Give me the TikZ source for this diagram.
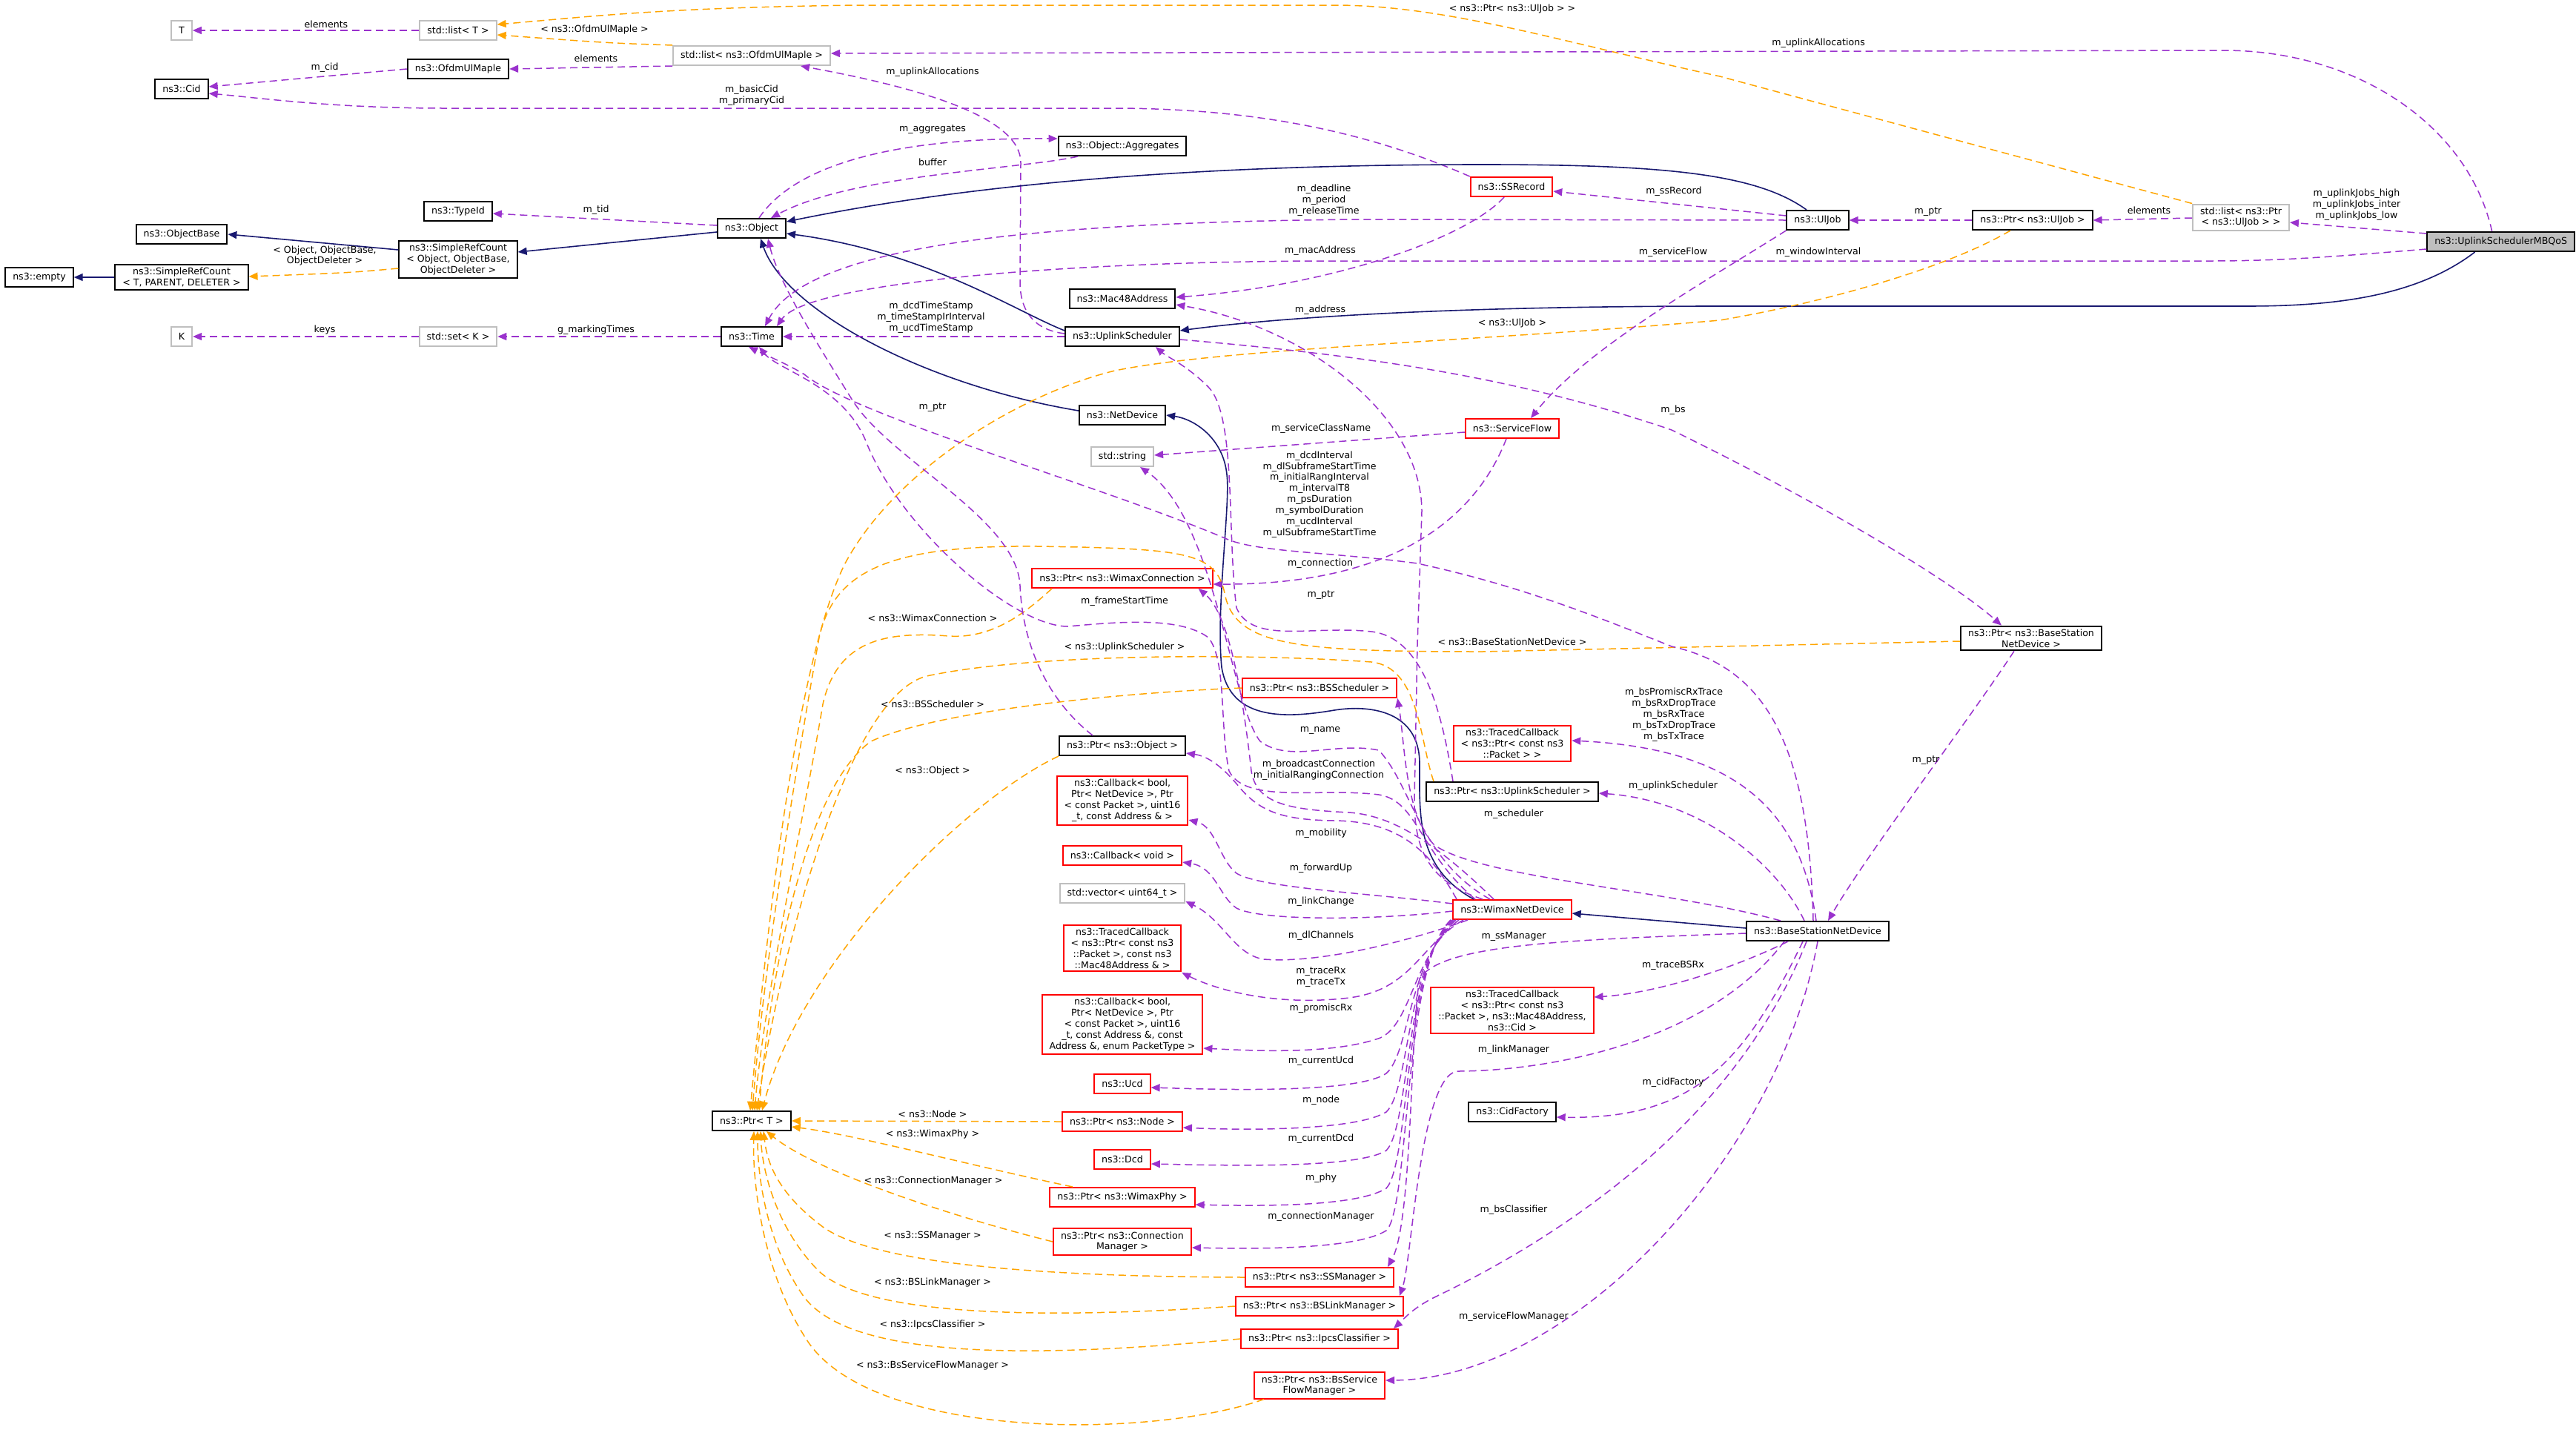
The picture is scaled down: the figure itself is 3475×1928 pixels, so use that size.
\documentclass[tikz,border=0pt]{standalone}
\usepackage{fontspec}
\setmainfont{DejaVu Sans}
\usetikzlibrary{arrows.meta}
\definecolor{usepurple}{HTML}{9A32CD}
\definecolor{tmplorange}{HTML}{FFA500}
\definecolor{basenavy}{HTML}{191970}
\begin{document}
\begin{tikzpicture}[x=1pt, y=-1pt,
  >={Triangle[length=12pt,width=10pt]},
  every node/.style={font=\fontsize{12.6}{14.9}\selectfont},
  classbox/.style={draw, line width=2pt, fill=white, align=center, inner xsep=10pt, inner ysep=4pt, minimum height=26pt},
  cls/.style={classbox, draw=black},
  undoc/.style={classbox, draw=red},
  ext/.style={classbox, draw=gray!50},
  mainbox/.style={classbox, draw=black, fill=gray!50},
  mem/.style={->, draw=usepurple, line width=1.5pt, dash pattern=on 10pt off 6pt},
  tpl/.style={->, draw=tmplorange, line width=1.5pt, dash pattern=on 10pt off 6pt},
  inh/.style={->, draw=basenavy, line width=1.6pt},
  lbl/.style={align=center, inner sep=0pt, text=black}]
\useasboundingbox (0,0) rectangle (3475,1928);

\node (t) at (245,41) [ext] {T};
\node (listt) at (618,41) [ext] {std::list< T >};
\node (lom) at (1014,75) [ext] {std::list< ns3::OfdmUlMaple >};
\node (maple) at (618,93) [cls] {ns3::OfdmUlMaple};
\node (cid) at (245,120) [cls] {ns3::Cid};
\node (typeid) at (618,285) [cls] {ns3::TypeId};
\node (obj) at (1014,308) [cls] {ns3::Object};
\node (objbase) at (245,316) [cls] {ns3::ObjectBase};
\node (src) at (618,350) [cls] {ns3::SimpleRefCount\\< Object, ObjectBase,\\ObjectDeleter >};
\node (empty) at (53,374) [cls] {ns3::empty};
\node (srct) at (245,374) [cls] {ns3::SimpleRefCount\\< T, PARENT, DELETER >};
\node (k) at (245,454) [ext] {K};
\node (setk) at (618,454) [ext] {std::set< K >};
\node (time) at (1014,454) [cls] {ns3::Time};
\node (aggr) at (1514,197) [cls] {ns3::Object::Aggregates};
\node (ssrec) at (2039,252) [undoc] {ns3::SSRecord};
\node (mac) at (1514,403) [cls] {ns3::Mac48Address};
\node (upsch) at (1514,454) [cls] {ns3::UplinkScheduler};
\node (uljob) at (2452,297) [cls] {ns3::UlJob};
\node (pujob) at (2742,297) [cls] {ns3::Ptr< ns3::UlJob >};
\node (lpujob) at (3023,293) [ext] {std::list< ns3::Ptr\\< ns3::UlJob > >};
\node (mbqos) at (3474,326) [mainbox, anchor=east] {ns3::UplinkSchedulerMBQoS};
\node (netdev) at (1514,560) [cls] {ns3::NetDevice};
\node (sflow) at (2040,578) [undoc] {ns3::ServiceFlow};
\node (str) at (1514,616) [ext] {std::string};
\node (pwc) at (1514,780) [undoc] {ns3::Ptr< ns3::WimaxConnection >};
\node (pbsnd) at (2740,861) [cls] {ns3::Ptr< ns3::BaseStation\\NetDevice >};
\node (pbssch) at (1780,928) [undoc] {ns3::Ptr< ns3::BSScheduler >};
\node (tcpkt) at (2040,1003) [undoc] {ns3::TracedCallback\\< ns3::Ptr< const ns3\\::Packet > >};
\node (pobj) at (1514,1006) [cls] {ns3::Ptr< ns3::Object >};
\node (cbfwd) at (1514,1080) [undoc] {ns3::Callback< bool,\\Ptr< NetDevice >, Ptr\\< const Packet >, uint16\\\_t, const Address \& >};
\node (pupsch) at (2040,1068) [cls] {ns3::Ptr< ns3::UplinkScheduler >};
\node (cbvoid) at (1514,1154) [undoc] {ns3::Callback< void >};
\node (vec) at (1514,1205) [ext] {std::vector< uint64\_t >};
\node (wnd) at (2040,1227) [undoc] {ns3::WimaxNetDevice};
\node (bsnd) at (2452,1256) [cls] {ns3::BaseStationNetDevice};
\node (tcmac) at (1514,1279) [undoc] {ns3::TracedCallback\\< ns3::Ptr< const ns3\\::Packet >, const ns3\\::Mac48Address \& >};
\node (tccid) at (2040,1363) [undoc] {ns3::TracedCallback\\< ns3::Ptr< const ns3\\::Packet >, ns3::Mac48Address,\\ns3::Cid >};
\node (cbprom) at (1514,1382) [undoc] {ns3::Callback< bool,\\Ptr< NetDevice >, Ptr\\< const Packet >, uint16\\\_t, const Address \&, const\\Address \&, enum PacketType >};
\node (ucd) at (1514,1462) [undoc] {ns3::Ucd};
\node (cidf) at (2040,1500) [cls] {ns3::CidFactory};
\node (pnode) at (1514,1513) [undoc] {ns3::Ptr< ns3::Node >};
\node (ptt) at (1014,1512) [cls] {ns3::Ptr< T >};
\node (dcd) at (1514,1564) [undoc] {ns3::Dcd};
\node (pphy) at (1514,1615) [undoc] {ns3::Ptr< ns3::WimaxPhy >};
\node (pconn) at (1514,1675) [undoc] {ns3::Ptr< ns3::Connection\\Manager >};
\node (pssm) at (1780,1723) [undoc] {ns3::Ptr< ns3::SSManager >};
\node (pbslm) at (1780,1762) [undoc] {ns3::Ptr< ns3::BSLinkManager >};
\node (pipcs) at (1780,1806) [undoc] {ns3::Ptr< ns3::IpcsClassifier >};
\node (pbssfm) at (1780,1869) [undoc] {ns3::Ptr< ns3::BsService\\FlowManager >};

\draw[mem] (listt.west) -- (t.east) node[lbl] at (440,33) {elements};
\draw[tpl] (lom.north west) .. controls (820,58) .. ([yshift=-6pt]listt.east) node[lbl] at (802,40) {< ns3::OfdmUlMaple >};
\draw[tpl] (lpujob.north west) -- (2320,103) .. controls (2100,55) and (1950,7) .. (1800,7) -- (1160,7) .. controls (900,10) and (800,22) .. ([yshift=8pt]listt.east) node[lbl] at (2040,12) {< ns3::Ptr< ns3::UlJob > >};
\draw[mem] (lom.south west) -- (maple.east) node[lbl] at (804,79) {elements};
\draw[mem] (maple.west) -- ([yshift=3pt]cid.east) node[lbl] at (438,91) {m\_cid};
\draw[mem] (ssrec.north west) .. controls (1850,180) and (1700,146) .. (1500,146) -- (600,146) .. controls (450,146) and (350,132) .. ([yshift=-6pt]cid.east) node[lbl] at (1014,129) {m\_basicCid\\m\_primaryCid};
\draw[mem] ([xshift=-12pt]mbqos.north) .. controls (3330,170) and (3180,68) .. (3000,68) -- ([yshift=3pt]lom.east) node[lbl] at (2453,58) {m\_uplinkAllocations};
\draw[mem] ([yshift=4pt]upsch.west) .. controls (1395,445) and (1376,420) .. (1376,380) -- (1377,220) .. controls (1378,160) and (1250,120) .. ([xshift=66pt]lom.south) node[lbl] at (1258,97) {m\_uplinkAllocations};
\draw[mem] ([xshift=10pt]obj.north) .. controls (1060,240) and (1160,185) .. ([yshift=10pt]aggr.west) node[lbl] at (1258,175) {m\_aggregates};
\draw[mem] ([xshift=-60pt]aggr.south) .. controls (1380,228) and (1150,235) .. ([xshift=26pt]obj.north) node[lbl] at (1258,219) {buffer};
\draw[mem] ([yshift=4pt]obj.west) -- ([yshift=-3pt]typeid.east) node[lbl] at (804,283) {m\_tid};
\draw[inh] ([yshift=-5pt]obj.west) -- ([yshift=10pt]src.east);
\draw[inh] ([yshift=13pt]src.west) -- (objbase.east);
\draw[tpl] ([yshift=-12pt]src.west) .. controls (470,368) .. ([yshift=1pt]srct.east) node[lbl] at (438,345) {< Object, ObjectBase,\\ObjectDeleter >};
\draw[inh] (srct.west) -- (empty.east);
\draw[mem] (setk.west) -- (k.east) node[lbl] at (438,445) {keys};
\draw[mem] (time.west) -- (setk.east) node[lbl] at (804,445) {g\_markingTimes};
\draw[inh] ([xshift=-15pt]uljob.north) .. controls (2370,235) and (2250,222) .. (2000,222) .. controls (1600,222) and (1300,250) .. ([yshift=9pt]obj.east);
\draw[inh] ([yshift=8pt]upsch.west) .. controls (1370,420) and (1250,340) .. ([yshift=-7pt]obj.east);
\draw[inh] ([yshift=6pt]netdev.west) .. controls (1250,520) and (1060,420) .. ([xshift=12pt]obj.south);
\draw[inh] ([xshift=-35pt]mbqos.south) .. controls (3260,400) and (3150,413) .. (3030,413) -- (2320,413) .. controls (2000,413) and (1750,425) .. ([yshift=8pt]upsch.east);
\draw[inh] ([xshift=-52pt]wnd.north) .. controls (1910,1170) and (1915,1100) .. (1915,1030) .. controls (1915,960) and (1850,950) .. (1800,958) .. controls (1740,968) and (1660,975) .. (1648,900) .. controls (1640,820) and (1660,680) .. (1655,640) .. controls (1650,590) and (1610,565) .. (netdev.east);
\draw[inh] ([yshift=4pt]bsnd.west) -- ([yshift=-5pt]wnd.east);
\draw[mem] (uljob.west) -- (1830,296) .. controls (1400,300) and (1090,330) .. ([xshift=18pt]time.north) node[lbl] at (1786,270) {m\_deadline\\m\_period\\m\_releaseTime};
\draw[mem] ([yshift=-10pt]mbqos.west) .. controls (3150,346) and (3080,352) .. (2980,352) -- (1800,352) .. controls (1450,352) and (1090,380) .. ([xshift=34pt]time.north) node[lbl] at (2453,340) {m\_windowInterval};
\draw[mem] (upsch.west) -- (time.east) node[lbl] at (1256,428) {m\_dcdTimeStamp\\m\_timeStampIrInterval\\m\_ucdTimeStamp};
\draw[mem] ([xshift=-10pt]ssrec.south) .. controls (1980,320) and (1800,385) .. ([yshift=2pt]mac.east) node[lbl] at (1781,338) {m\_macAddress};
\draw[mem] ([xshift=-40pt]wnd.north) .. controls (1930,1190) and (1908,1150) .. (1908,1080) -- (1912,870) -- (1918,690) .. controls (1918,560) and (1760,440) .. ([yshift=-8pt]mac.east) node[lbl] at (1781,418) {m\_address};
\draw[mem] ([yshift=-5pt]sflow.west) -- ([yshift=2pt]str.east) node[lbl] at (1782,578) {m\_serviceClassName};
\draw[mem] ([xshift=-30pt]wnd.north) .. controls (1915,1160) and (1905,1060) .. (1860,1012) .. controls (1800,1000) and (1740,1030) .. (1700,1000) .. controls (1660,950) and (1640,700) .. ([xshift=24pt]str.south) node[lbl] at (1781,985) {m\_name};
\draw[mem] ([xshift=-8pt]sflow.south) .. controls (1990,700) and (1880,789) .. ([yshift=-8pt]pwc.east) node[lbl] at (1781,760) {m\_connection};
\draw[mem] ([xshift=-25pt]wnd.north) .. controls (1940,1140) and (1880,1100) .. (1820,1096) .. controls (1740,1092) and (1695,1085) .. (1688,1040) .. controls (1678,950) and (1660,830) .. ([xshift=-20pt]pwc.south east) node[lbl] at (1779,1039) {m\_broadcastConnection\\m\_initialRangingConnection};
\draw[tpl] ([xshift=-95pt]pwc.south) .. controls (1385,825) and (1340,862) .. (1280,858) .. controls (1200,852) and (1130,860) .. (1110,950) .. controls (1085,1100) and (1030,1350) .. ([xshift=4pt]ptt.north) node[lbl] at (1258,834) {< ns3::WimaxConnection >};
\draw[tpl] ([xshift=-30pt]pujob.south) .. controls (2620,365) and (2450,410) .. (2320,432) .. controls (2000,460) and (1650,470) .. (1504,500) .. controls (1380,530) and (1210,630) .. (1140,760) .. controls (1070,900) and (1030,1300) .. ([xshift=-2pt]ptt.north) node[lbl] at (2040,436) {< ns3::UlJob >};
\draw[tpl] ([yshift=-4pt]pbsnd.west) -- (2000,879) .. controls (1750,879) and (1665,872) .. (1652,800) .. controls (1640,745) and (1600,740) .. (1400,737) .. controls (1200,735) and (1125,770) .. (1105,860) .. controls (1080,1000) and (1030,1300) .. ([xshift=1pt]ptt.north) node[lbl] at (2040,866) {< ns3::BaseStationNetDevice >};
\draw[tpl] ([xshift=-106pt]pupsch.north) .. controls (1915,1000) and (1915,900) .. (1850,893) .. controls (1700,882) and (1400,880) .. (1250,912) .. controls (1140,940) and (1050,1300) .. ([xshift=7pt]ptt.north) node[lbl] at (1517,873) {< ns3::UplinkScheduler >};
\draw[tpl] (pbssch.west) .. controls (1500,935) and (1260,960) .. (1175,1000) .. controls (1090,1060) and (1040,1300) .. ([xshift=10pt]ptt.north) node[lbl] at (1258,950) {< ns3::BSScheduler >};
\draw[tpl] (pobj.south west) .. controls (1300,1080) and (1080,1300) .. ([xshift=14pt]ptt.north) node[lbl] at (1258,1040) {< ns3::Object >};
\draw[tpl] (pnode.west) -- (ptt.east) node[lbl] at (1258,1503) {< ns3::Node >};
\draw[tpl] ([xshift=-67pt]pphy.north) .. controls (1300,1570) and (1150,1530) .. ([yshift=-8pt]ptt.east) node[lbl] at (1258,1530) {< ns3::WimaxPhy >};
\draw[tpl] (pconn.west) .. controls (1280,1640) and (1100,1580) .. ([xshift=20pt]ptt.south) node[lbl] at (1259,1593) {< ns3::ConnectionManager >};
\draw[tpl] (pssm.west) .. controls (1400,1722) and (1180,1705) .. (1110,1655) .. controls (1050,1610) and (1035,1570) .. ([xshift=16pt]ptt.south) node[lbl] at (1258,1667) {< ns3::SSManager >};
\draw[tpl] (pbslm.west) .. controls (1400,1780) and (1170,1775) .. (1105,1715) .. controls (1045,1655) and (1028,1575) .. ([xshift=12pt]ptt.south) node[lbl] at (1258,1730) {< ns3::BSLinkManager >};
\draw[tpl] (pipcs.west) .. controls (1400,1832) and (1150,1835) .. (1085,1750) .. controls (1035,1680) and (1022,1590) .. ([xshift=8pt]ptt.south) node[lbl] at (1258,1787) {< ns3::IpcsClassifier >};
\draw[tpl] ([xshift=-75pt]pbssfm.south) .. controls (1550,1942) and (1180,1942) .. (1090,1810) .. controls (1030,1720) and (1015,1600) .. ([xshift=3pt]ptt.south) node[lbl] at (1258,1842) {< ns3::BsServiceFlowManager >};
\draw[mem] ([xshift=-40pt]pobj.north) .. controls (1420,950) and (1380,880) .. (1376,790) .. controls (1372,700) and (1200,620) .. (1150,540) .. controls (1100,460) and (1050,380) .. ([xshift=22pt]obj.south) node[lbl] at (1258,550) {m\_ptr};
\draw[mem] ([xshift=-50pt]wnd.north) .. controls (1915,1150) and (1912,1080) .. (1860,1072) .. controls (1780,1062) and (1680,1085) .. (1658,1040) .. controls (1645,980) and (1655,890) .. (1630,860) .. controls (1590,830) and (1500,840) .. (1440,845) .. controls (1370,845) and (1220,720) .. (1170,600) .. controls (1140,520) and (1050,500) .. ([xshift=10pt]time.south) node[lbl] at (1517,811) {m\_frameStartTime};
\draw[mem] ([xshift=-6pt]bsnd.north) .. controls (2440,1000) and (2380,900) .. (2255,872) .. controls (2150,830) and (2050,790) .. (1912,760) .. controls (1800,745) and (1700,745) .. (1657,728) .. controls (1500,660) and (1150,560) .. (1085,505) .. controls (1060,490) and (1035,480) .. ([xshift=-4pt]time.south) node[lbl] at (1780,667) {m\_dcdInterval\\m\_dlSubframeStartTime\\m\_initialRangInterval\\m\_intervalT8\\m\_psDuration\\m\_symbolDuration\\m\_ucdInterval\\m\_ulSubframeStartTime};
\draw[mem] ([xshift=-80pt]pupsch.north) .. controls (1945,960) and (1920,860) .. (1850,852) .. controls (1770,843) and (1690,870) .. (1668,820) .. controls (1655,720) and (1668,560) .. (1630,522) .. controls (1600,492) and (1575,482) .. ([xshift=45pt]upsch.south) node[lbl] at (1782,803) {m\_ptr};
\draw[mem] ([yshift=-4pt]upsch.east) .. controls (1850,480) and (2050,510) .. (2255,580) .. controls (2480,690) and (2640,790) .. ([xshift=-40pt]pbsnd.north) node[lbl] at (2257,553) {m\_bs};
\draw[mem] ([xshift=-23pt]pbsnd.south) .. controls (2650,980) and (2520,1150) .. ([xshift=14pt]bsnd.north) node[lbl] at (2598,1026) {m\_ptr};
\draw[mem] ([yshift=6pt]uljob.west) -- ([yshift=-6pt]ssrec.east) node[lbl] at (2258,258) {m\_ssRecord};
\draw[mem] (uljob.south west) .. controls (2300,380) and (2140,470) .. ([xshift=25pt]sflow.north) node[lbl] at (2257,340) {m\_serviceFlow};
\draw[mem] (pujob.west) -- (uljob.east) node[lbl] at (2601,286) {m\_ptr};
\draw[mem] ([yshift=-1pt]lpujob.west) -- (pujob.east) node[lbl] at (2899,284) {elements};
\draw[mem] ([yshift=11pt]mbqos.west) -- ([yshift=-7pt]lpujob.east) node[lbl] at (3179,276) {m\_uplinkJobs\_high\\m\_uplinkJobs\_inter\\m\_uplinkJobs\_low};
\draw[mem] ([xshift=-18pt]bsnd.north) .. controls (2400,1170) and (2300,1080) .. ([yshift=-2pt]pupsch.east) node[lbl] at (2257,1060) {m\_uplinkScheduler};
\draw[mem] ([xshift=-2pt]bsnd.north) .. controls (2430,1100) and (2350,1010) .. ([yshift=4pt]tcpkt.east) node[lbl] at (2258,964) {m\_bsPromiscRxTrace\\m\_bsRxDropTrace\\m\_bsRxTrace\\m\_bsTxDropTrace\\m\_bsTxTrace};
\draw[mem] ([xshift=-50pt]bsnd.north) .. controls (2250,1200) and (2000,1185) .. (1935,1140) .. controls (1895,1100) and (1895,1000) .. (pbssch.south east) node[lbl] at (2042,1098) {m\_scheduler};
\draw[mem] ([xshift=-40pt]bsnd.south) .. controls (2330,1310) and (2230,1340) .. ([yshift=18pt]tccid.east) node[lbl] at (2257,1302) {m\_traceBSRx};
\draw[mem] ([xshift=-20pt]bsnd.south) .. controls (2350,1440) and (2280,1510) .. ([yshift=-7pt]cidf.east) node[lbl] at (2257,1460) {m\_cidFactory};
\draw[mem] ([yshift=-3pt]bsnd.west) .. controls (2100,1268) and (1945,1275) .. (1915,1320) .. controls (1902,1400) and (1905,1650) .. ([xshift=92pt]pssm.north) node[lbl] at (2042,1263) {m\_ssManager};
\draw[mem] ([xshift=-45pt]bsnd.south) .. controls (2300,1410) and (2080,1445) .. (1965,1445) .. controls (1915,1455) and (1905,1700) .. ([xshift=108pt]pbslm.north) node[lbl] at (2042,1416) {m\_linkManager};
\draw[mem] ([xshift=-15pt]bsnd.south) .. controls (2330,1540) and (2060,1690) .. (1935,1750) .. controls (1905,1765) and (1893,1780) .. ([xshift=100pt]pipcs.north) node[lbl] at (2042,1632) {m\_bsClassifier};
\draw[mem] (bsnd.south) .. controls (2400,1560) and (2120,1860) .. ([yshift=7pt]pbssfm.east) node[lbl] at (2042,1776) {m\_serviceFlowManager};
\draw[mem] ([xshift=-75pt]wnd.north) .. controls (1930,1150) and (1890,1108) .. (1800,1107) .. controls (1730,1106) and (1700,1095) .. (1672,1062) .. controls (1650,1035) and (1630,1020) .. ([yshift=-10pt]pobj.east) node[lbl] at (1782,1124) {m\_mobility};
\draw[mem] ([yshift=8pt]wnd.west) .. controls (1850,1205) and (1700,1198) .. (1668,1178) .. controls (1645,1160) and (1640,1115) .. ([yshift=-26pt]cbfwd.east) node[lbl] at (1782,1171) {m\_forwardUp};
\draw[mem] ([yshift=-2pt]wnd.west) .. controls (1850,1242) and (1700,1242) .. (1668,1225) .. controls (1645,1210) and (1640,1170) .. ([yshift=-9pt]cbvoid.east) node[lbl] at (1782,1216) {m\_linkChange};
\draw[mem] ([xshift=-60pt]wnd.south) .. controls (1900,1270) and (1780,1300) .. (1705,1294) .. controls (1665,1288) and (1650,1240) .. ([yshift=-11pt]vec.east) node[lbl] at (1782,1262) {m\_dlChannels};
\draw[mem] ([xshift=-66pt]wnd.south) .. controls (1915,1275) and (1905,1335) .. (1820,1346) .. controls (1720,1358) and (1640,1335) .. ([yshift=-33pt]tcmac.east) node[lbl] at (1782,1318) {m\_traceRx\\m\_traceTx};
\draw[mem] ([xshift=-72pt]wnd.south) .. controls (1905,1290) and (1905,1380) .. (1862,1400) .. controls (1800,1422) and (1700,1418) .. ([yshift=-32pt]cbprom.east) node[lbl] at (1782,1360) {m\_promiscRx};
\draw[mem] ([xshift=-76pt]wnd.south) .. controls (1898,1300) and (1902,1420) .. (1870,1448) .. controls (1830,1475) and (1650,1470) .. ([yshift=-5pt]ucd.east) node[lbl] at (1782,1431) {m\_currentUcd};
\draw[mem] ([xshift=-78pt]wnd.south) .. controls (1896,1300) and (1902,1470) .. (1870,1500) .. controls (1830,1525) and (1680,1525) .. ([yshift=-8pt]pnode.east) node[lbl] at (1782,1484) {m\_node};
\draw[mem] ([xshift=-80pt]wnd.south) .. controls (1895,1300) and (1902,1520) .. (1870,1552) .. controls (1830,1577) and (1650,1572) .. ([yshift=-6pt]dcd.east) node[lbl] at (1782,1536) {m\_currentDcd};
\draw[mem] ([xshift=-82pt]wnd.south) .. controls (1894,1300) and (1902,1570) .. (1870,1603) .. controls (1830,1628) and (1700,1627) .. ([yshift=-10pt]pphy.east) node[lbl] at (1782,1589) {m\_phy};
\draw[mem] ([xshift=-83pt]wnd.south) .. controls (1893,1300) and (1902,1630) .. (1870,1660) .. controls (1830,1685) and (1700,1685) .. ([yshift=-8pt]pconn.east) node[lbl] at (1782,1641) {m\_connectionManager};
\end{tikzpicture}
\end{document}
